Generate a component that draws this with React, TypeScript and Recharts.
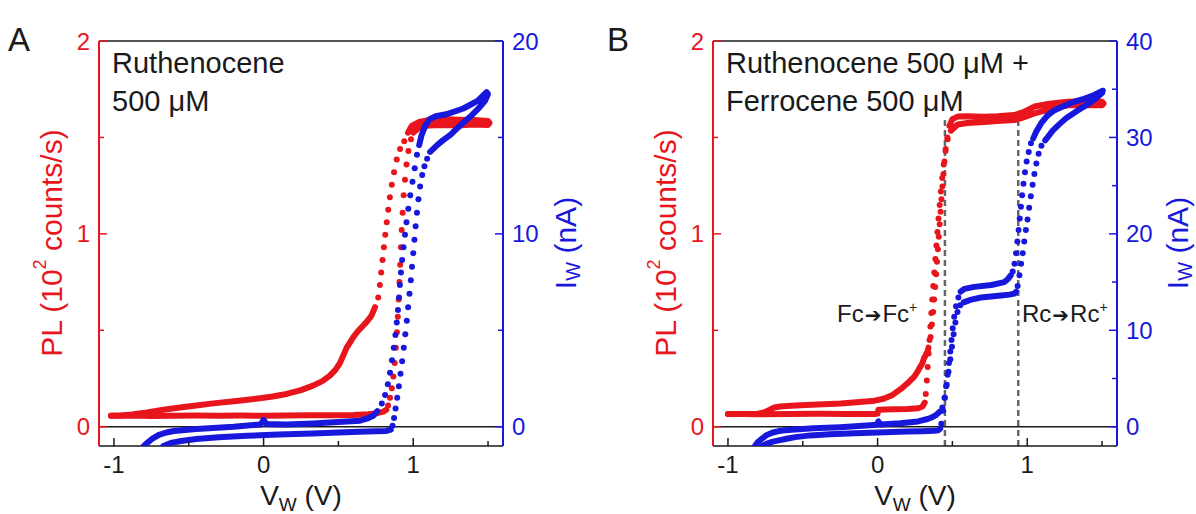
import React from 'react';
import { ComposedChart, Scatter, XAxis, YAxis, ReferenceLine } from 'recharts';

const RED = '#E8161C';
const BLUE = '#1818DC';
const INK = '#1a1a1a';
const FONT = 'Arial, "Liberation Sans", Helvetica, sans-serif';

// shared axes
const vDomain: [number, number] = [-1.1, 1.6];
const vTicks = [-1, -0.5, 0, 0.5, 1, 1.5];
const plDomain: [number, number] = [-0.1, 2];
const plTicks = [0, 0.5, 1, 1.5, 2];

// ---- panel A : ruthenocene 500 uM ----
const aIDomain: [number, number] = [-1, 20];
const aITicks = [0, 5, 10, 15, 20];

// PL, lower branch (V, PL)
const aPlLowTrace = [[-1.02, 0.057], [-0.9, 0.058], [-0.75, 0.056], [-0.6, 0.057], [-0.45, 0.058], [-0.3, 0.057], [-0.15, 0.058], [0, 0.057], [0.15, 0.058], [0.3, 0.059], [0.45, 0.06], [0.6, 0.061], [0.7, 0.065], [0.76, 0.07], [0.8, 0.078], [0.82, 0.088]];
const aPlLowDots = [[0.832, 0.11], [0.845, 0.15], [0.857, 0.2], [0.867, 0.26], [0.876, 0.33], [0.884, 0.41], [0.891, 0.49], [0.897, 0.57], [0.903, 0.66], [0.908, 0.75], [0.913, 0.84], [0.918, 0.93], [0.923, 1.02], [0.929, 1.11], [0.936, 1.2], [0.945, 1.28], [0.955, 1.36], [0.968, 1.43], [0.985, 1.49]];
const aPlTopTrace = [[1.0, 1.525], [1.04, 1.55], [1.1, 1.562], [1.2, 1.565], [1.3, 1.562], [1.4, 1.567], [1.5, 1.565], [1.51, 1.575], [1.5, 1.585], [1.4, 1.59], [1.3, 1.592], [1.2, 1.595], [1.1, 1.59], [1.04, 1.58], [0.99, 1.56], [0.965, 1.525]];
const aPlUpDots = [[0.94, 1.48], [0.912, 1.44], [0.89, 1.385], [0.872, 1.32], [0.857, 1.255], [0.844, 1.19], [0.833, 1.125], [0.823, 1.06], [0.813, 0.995], [0.804, 0.93], [0.795, 0.865], [0.786, 0.8], [0.777, 0.735], [0.766, 0.67]];
const aPlUpTrace = [[0.745, 0.62], [0.72, 0.575], [0.69, 0.545], [0.66, 0.52], [0.63, 0.495], [0.6, 0.465], [0.58, 0.44], [0.555, 0.41], [0.53, 0.365], [0.51, 0.33], [0.48, 0.295], [0.443, 0.265], [0.39, 0.235], [0.33, 0.213], [0.25, 0.19], [0.154, 0.17], [0.05, 0.155], [-0.013, 0.149], [-0.15, 0.136], [-0.337, 0.121], [-0.45, 0.11], [-0.56, 0.1], [-0.68, 0.087], [-0.78, 0.074], [-0.88, 0.063], [-0.95, 0.058], [-1.02, 0.057]];

// current, (V, nA)
const aILowTrace = [[-0.67, -1.0], [-0.62, -0.84], [-0.55, -0.74], [-0.45, -0.64], [-0.3, -0.55], [-0.11, -0.47], [0.1, -0.41], [0.33, -0.35], [0.5, -0.3], [0.64, -0.26], [0.75, -0.24], [0.82, -0.22], [0.85, -0.15]];
const aILowDots = [[0.862, 0.05], [0.872, 0.45], [0.882, 0.95], [0.893, 1.5], [0.904, 2.1], [0.915, 2.75], [0.926, 3.4], [0.937, 4.1], [0.947, 4.8], [0.957, 5.5], [0.966, 6.2], [0.975, 6.9], [0.984, 7.6], [0.992, 8.3], [1.0, 9.0], [1.008, 9.7], [1.016, 10.4], [1.025, 11.1], [1.035, 11.8], [1.046, 12.45], [1.06, 13.05], [1.075, 13.5], [1.093, 13.9]];
const aITopTrace = [[1.113, 14.25], [1.16, 14.6], [1.2, 14.86], [1.25, 15.15], [1.29, 15.45], [1.34, 15.8], [1.38, 16.07], [1.43, 16.45], [1.48, 16.9], [1.5, 17.25], [1.49, 17.35], [1.43, 16.9], [1.335, 16.5], [1.22, 16.2], [1.15, 16.1], [1.11, 15.95], [1.08, 15.6], [1.055, 15.1], [1.04, 14.6]];
const aIUpDots = [[1.025, 14.1], [1.01, 13.4], [0.995, 12.7], [0.98, 12.0], [0.967, 11.3], [0.955, 10.6], [0.945, 9.95], [0.935, 9.3], [0.926, 8.65], [0.918, 8.0], [0.911, 7.35], [0.905, 6.7], [0.898, 6.05], [0.89, 5.4], [0.881, 4.75], [0.87, 4.1], [0.858, 3.45], [0.845, 2.8], [0.83, 2.2], [0.812, 1.65], [0.79, 1.2]];
const aIUpTrace = [[0.76, 0.8], [0.73, 0.55], [0.69, 0.42], [0.644, 0.31], [0.5, 0.24], [0.33, 0.17], [0.15, 0.12], [0.02, 0.14], [0.0, 0.35], [-0.02, 0.12], [-0.2, 0.0], [-0.45, -0.12], [-0.6, -0.22], [-0.65, -0.3], [-0.7, -0.42], [-0.74, -0.6], [-0.78, -0.85], [-0.8, -1.0]];

// ---- panel B : ruthenocene + ferrocene ----
const bIDomain: [number, number] = [-2, 40];
const bITicks = [0, 5, 10, 15, 20, 25, 30, 35, 40];
const bMarkers = [0.45, 0.94];

const bPlLowTrace = [[-1.0, 0.066], [-0.9, 0.066], [-0.8, 0.065], [-0.6, 0.066], [-0.4, 0.067], [-0.2, 0.066], [-0.02, 0.066], [0.0, 0.068], [0.005, 0.088], [0.1, 0.09], [0.2, 0.092], [0.27, 0.096], [0.3, 0.105], [0.315, 0.125]];
const bPlLowDots = [[0.322, 0.17], [0.329, 0.24], [0.335, 0.31], [0.341, 0.38], [0.347, 0.45], [0.353, 0.52], [0.359, 0.59], [0.365, 0.66], [0.372, 0.73], [0.379, 0.8], [0.386, 0.87], [0.393, 0.94], [0.4, 1.01], [0.407, 1.08], [0.415, 1.15], [0.423, 1.22], [0.432, 1.29], [0.442, 1.36], [0.454, 1.43], [0.468, 1.49]];
const bPlTopTrace = [[0.49, 1.535], [0.535, 1.567], [0.6, 1.575], [0.713, 1.58], [0.8, 1.585], [0.914, 1.59], [0.96, 1.6], [1.048, 1.625], [1.15, 1.645], [1.27, 1.667], [1.4, 1.667], [1.5, 1.667], [1.51, 1.676], [1.5, 1.685], [1.4, 1.688], [1.27, 1.685], [1.15, 1.675], [1.048, 1.66], [0.97, 1.63], [0.914, 1.616], [0.8, 1.61], [0.713, 1.607], [0.6, 1.61], [0.535, 1.608], [0.5, 1.595], [0.48, 1.56]];
const bPlUpDots = [[0.466, 1.5], [0.455, 1.44], [0.447, 1.375], [0.44, 1.31], [0.433, 1.245], [0.427, 1.18], [0.421, 1.115], [0.415, 1.05], [0.409, 0.985], [0.403, 0.92], [0.397, 0.855], [0.391, 0.79], [0.385, 0.725], [0.378, 0.66], [0.371, 0.595], [0.363, 0.53], [0.354, 0.465]];
const bPlUpTrace = [[0.34, 0.41], [0.334, 0.39], [0.31, 0.355], [0.3, 0.33], [0.27, 0.29], [0.245, 0.26], [0.2, 0.225], [0.156, 0.196], [0.1, 0.165], [0.04, 0.145], [-0.02, 0.135], [-0.1, 0.13], [-0.245, 0.12], [-0.4, 0.115], [-0.55, 0.11], [-0.65, 0.105], [-0.69, 0.1], [-0.72, 0.088], [-0.76, 0.074], [-0.8, 0.067], [-0.9, 0.066], [-1.0, 0.066]];

const bILowTrace = [[-0.77, -2.0], [-0.74, -1.75], [-0.7, -1.55], [-0.66, -1.42], [-0.6, -1.22], [-0.55, -1.08], [-0.45, -0.9], [-0.32, -0.78], [-0.15, -0.68], [0.0, -0.6], [0.1, -0.55], [0.2, -0.5], [0.3, -0.46], [0.38, -0.42], [0.405, -0.38], [0.418, -0.2]];
const bILowDots = [[0.426, 0.3], [0.438, 1.65], [0.45, 3.0], [0.462, 4.35], [0.474, 5.7], [0.486, 7.0], [0.497, 8.3], [0.508, 9.6], [0.52, 10.8], [0.534, 11.9], [0.552, 12.6]];
const bILowPlateau = [[0.575, 12.9], [0.62, 13.15], [0.69, 13.4], [0.825, 13.6], [0.88, 13.7], [0.914, 13.8], [0.926, 14.0]];
const bILowDots2 = [[0.936, 14.6], [0.948, 15.7], [0.959, 16.9], [0.97, 18.0], [0.98, 19.2], [0.991, 20.4], [1.002, 21.5], [1.013, 22.7], [1.024, 23.9], [1.036, 25.1], [1.048, 26.2], [1.061, 27.3], [1.076, 28.3], [1.095, 29.15]];
const bITopTrace = [[1.12, 29.7], [1.14, 30.1], [1.17, 30.7], [1.21, 31.3], [1.26, 32.0], [1.337, 32.8], [1.4, 33.4], [1.448, 33.9], [1.5, 34.6], [1.505, 34.85], [1.448, 34.4], [1.38, 34.0], [1.314, 33.7], [1.25, 33.3], [1.18, 32.8], [1.137, 32.3], [1.092, 31.45], [1.06, 30.6], [1.04, 29.9]];
const bIUpDots = [[1.025, 29.4], [1.01, 28.5], [0.996, 27.5], [0.985, 26.4], [0.975, 25.2], [0.966, 24.0], [0.958, 22.8], [0.95, 21.6], [0.942, 20.4], [0.934, 19.2], [0.925, 18.0], [0.915, 16.9], [0.903, 16.1]];
const bIUpPlateau = [[0.89, 15.7], [0.87, 15.3], [0.847, 15.0], [0.76, 14.7], [0.646, 14.5], [0.58, 14.3], [0.555, 14.0]];
const bIUpDots2 = [[0.54, 13.4], [0.524, 12.5], [0.512, 11.4], [0.502, 10.2], [0.494, 9.0], [0.486, 7.8], [0.477, 6.6], [0.468, 5.4], [0.458, 4.2], [0.447, 3.0], [0.433, 2.0]];
const bIUpTrace = [[0.415, 1.55], [0.39, 1.2], [0.36, 0.95], [0.334, 0.8], [0.27, 0.55], [0.15, 0.35], [0.02, 0.22], [0.005, 0.55], [-0.005, 0.2], [-0.1, 0.1], [-0.25, -0.05], [-0.43, -0.17], [-0.55, -0.28], [-0.62, -0.36], [-0.66, -0.45], [-0.7, -0.6], [-0.74, -0.85], [-0.77, -1.2], [-0.8, -1.6], [-0.82, -2.0]];

const toXY = (rows: number[][]) => rows.map(([x, y]) => ({ x, y }));

const dot = (color: string) => (p: any) => <circle cx={p.cx} cy={p.cy} r={3} fill={color} />;
const noDot = () => <g />;

const isMajor = (v: number, step: number) => Math.abs(v / step - Math.round(v / step)) < 1e-6;

function bottomTick(p: any) {
  const v = p.payload.value;
  const major = isMajor(v, 1);
  return (
    <g>
      <line x1={p.x} x2={p.x} y1={p.y} y2={p.y - (major ? 8 : 5)} stroke={INK} strokeWidth={1.5} />
      {major && (
        <text x={p.x} y={p.y + 27} textAnchor="middle" fontSize={24} fill={INK} fontFamily={FONT}>
          {v}
        </text>
      )}
    </g>
  );
}

function topTick(p: any) {
  const major = isMajor(p.payload.value, 1);
  return <line x1={p.x} x2={p.x} y1={p.y} y2={p.y + (major ? 8 : 5)} stroke={INK} strokeWidth={1.5} />;
}

const sideTick = (side: 'left' | 'right', color: string, step: number) => (p: any) => {
  const v = p.payload.value;
  const major = isMajor(v, step);
  const dir = side === 'left' ? 1 : -1;
  return (
    <g>
      <line x1={p.x} x2={p.x + dir * (major ? 8 : 5)} y1={p.y} y2={p.y} stroke={color} strokeWidth={1.5} />
      {major && (
        <text
          x={p.x - dir * 9}
          y={p.y + 8.5}
          textAnchor={side === 'left' ? 'end' : 'start'}
          fontSize={24}
          fill={color}
          fontFamily={FONT}
        >
          {v}
        </text>
      )}
    </g>
  );
};

interface PanelProps {
  width: number;
  leftW: number;
  rightW: number;
  iDomain: [number, number];
  iTicks: number[];
  iStep: number;
  plTraces: number[][][];
  plDots: number[][][];
  iTraces: number[][][];
  iDots: number[][][];
  markers?: number[];
}

function Panel({ width, leftW, rightW, iDomain, iTicks, iStep, plTraces, plDots, iTraces, iDots, markers = [] }: PanelProps) {
  const trace = (color: string) => ({
    stroke: color,
    strokeWidth: 6,
    strokeLinecap: 'round',
    strokeLinejoin: 'round',
    fill: 'none',
  });
  return (
    <ComposedChart width={width} height={514} margin={{ top: 40, right: 0, bottom: 8, left: 0 }}>
      <XAxis
        dataKey="x"
        type="number"
        domain={vDomain}
        ticks={vTicks}
        interval={0}
        allowDataOverflow
        height={60}
        tickSize={0}
        tickMargin={0}
        tickLine={false}
        tick={bottomTick}
        axisLine={{ stroke: INK, strokeWidth: 1.5 }}
      />
      <XAxis
        xAxisId="top"
        orientation="top"
        type="number"
        domain={vDomain}
        ticks={vTicks}
        interval={0}
        allowDataOverflow
        height={1}
        tickSize={0}
        tickMargin={0}
        tickLine={false}
        tick={topTick}
        axisLine={{ stroke: INK, strokeWidth: 1.5 }}
      />
      <YAxis
        yAxisId="pl"
        dataKey="y"
        type="number"
        domain={plDomain}
        ticks={plTicks}
        interval={0}
        allowDataOverflow
        width={leftW}
        tickSize={0}
        tickMargin={0}
        tickLine={false}
        tick={sideTick('left', RED, 1)}
        axisLine={{ stroke: RED, strokeWidth: 2 }}
      />
      <YAxis
        yAxisId="i"
        orientation="right"
        dataKey="y"
        type="number"
        domain={iDomain}
        ticks={iTicks}
        interval={0}
        allowDataOverflow
        width={rightW}
        tickSize={0}
        tickMargin={0}
        tickLine={false}
        tick={sideTick('right', BLUE, iStep)}
        axisLine={{ stroke: BLUE, strokeWidth: 2 }}
      />
      <ReferenceLine yAxisId="pl" y={0} stroke={INK} strokeWidth={1.5} />
      {plTraces.map((s, k) => (
        <Scatter key={`plt${k}`} yAxisId="pl" data={toXY(s)} line={trace(RED)} lineJointType="linear" shape={noDot} isAnimationActive={false} />
      ))}
      {plDots.map((s, k) => (
        <Scatter key={`pld${k}`} yAxisId="pl" data={toXY(s)} shape={dot(RED)} isAnimationActive={false} />
      ))}
      {iTraces.map((s, k) => (
        <Scatter key={`it${k}`} yAxisId="i" data={toXY(s)} line={trace(BLUE)} lineJointType="linear" shape={noDot} isAnimationActive={false} />
      ))}
      {iDots.map((s, k) => (
        <Scatter key={`id${k}`} yAxisId="i" data={toXY(s)} shape={dot(BLUE)} isAnimationActive={false} />
      ))}
      {markers.map((m) => (
        <ReferenceLine
          key={`m${m}`}
          yAxisId="pl"
          ifOverflow="visible"
          segment={[{ x: m, y: -0.1 }, { x: m, y: 1.6 }]}
          stroke="#666"
          strokeWidth={2.5}
          strokeDasharray="6 4"
        />
      ))}
    </ComposedChart>
  );
}

export default function App() {
  return (
    <div style={{ position: 'absolute', left: 0, top: 0, width: 1196, height: 514, background: '#fff', fontFamily: FONT }}>
      <div style={{ position: 'absolute', left: 0, top: 0 }}>
        <Panel
          width={600}
          leftW={99}
          rightW={97}
          iDomain={aIDomain}
          iTicks={aITicks}
          iStep={10}
          plTraces={[aPlLowTrace, aPlTopTrace, aPlUpTrace]}
          plDots={[aPlLowDots, aPlUpDots]}
          iTraces={[aILowTrace, aITopTrace, aIUpTrace]}
          iDots={[aILowDots, aIUpDots]}
        />
      </div>
      <div style={{ position: 'absolute', left: 600, top: 0 }}>
        <Panel
          width={596}
          leftW={113}
          rightW={79}
          iDomain={bIDomain}
          iTicks={bITicks}
          iStep={10}
          plTraces={[bPlLowTrace, bPlTopTrace, bPlUpTrace]}
          plDots={[bPlLowDots, bPlUpDots]}
          iTraces={[bILowTrace, bILowPlateau, bITopTrace, bIUpPlateau, bIUpTrace]}
          iDots={[bILowDots, bILowDots2, bIUpDots, bIUpDots2]}
          markers={bMarkers}
        />
      </div>
      <svg
        width={1196}
        height={514}
        style={{ position: 'absolute', left: 0, top: 0, pointerEvents: 'none' }}
        fontFamily={FONT}
      >
        <text x={8} y={51} fontSize={33} fill={INK}>A</text>
        <text x={607} y={51} fontSize={33} fill={INK}>B</text>

        <text x={112} y={73} fontSize={29} fill={INK}>Ruthenocene</text>
        <text x={112} y={111} fontSize={29} fill={INK}>500 μM</text>
        <text x={726} y={73} fontSize={29} fill={INK}>Ruthenocene 500 μM +</text>
        <text x={726} y={111} fontSize={29} fill={INK}>Ferrocene 500 μM</text>

        <text x={837} y={322} fontSize={24} fill={INK}>
          Fc<tspan dx={1} fontFamily="DejaVu Sans" fontSize={20}>➔</tspan>
          <tspan dx={1}>Fc</tspan>
          <tspan dy={-10} fontSize={14}>+</tspan>
        </text>
        <text x={1022} y={322} fontSize={24} fill={INK}>
          Rc<tspan dx={1} fontFamily="DejaVu Sans" fontSize={20}>➔</tspan>
          <tspan dx={1}>Rc</tspan>
          <tspan dy={-10} fontSize={14}>+</tspan>
        </text>

        {[51, 665].map((cx) => (
          <text
            key={`pl${cx}`}
            x={cx}
            y={243}
            transform={`rotate(-90 ${cx} 243)`}
            textAnchor="middle"
            dominantBaseline="central"
            fontSize={30}
            fill={RED}
          >
            PL (10<tspan dy={-11} fontSize={18}>2</tspan>
            <tspan dy={11}> counts/s)</tspan>
          </text>
        ))}
        {[565, 1177].map((cx) => (
          <text
            key={`iw${cx}`}
            x={cx}
            y={243}
            transform={`rotate(-90 ${cx} 243)`}
            textAnchor="middle"
            dominantBaseline="central"
            fontSize={30}
            fill={BLUE}
          >
            I<tspan dy={8} fontSize={20}>W</tspan>
            <tspan dy={-8}> (nA)</tspan>
          </text>
        ))}
        {[301, 915].map((cx) => (
          <text key={`vw${cx}`} x={cx} y={505} textAnchor="middle" fontSize={28} fill={INK}>
            V<tspan dy={6} fontSize={19}>W</tspan>
            <tspan dy={-6}> (V)</tspan>
          </text>
        ))}
      </svg>
    </div>
  );
}
